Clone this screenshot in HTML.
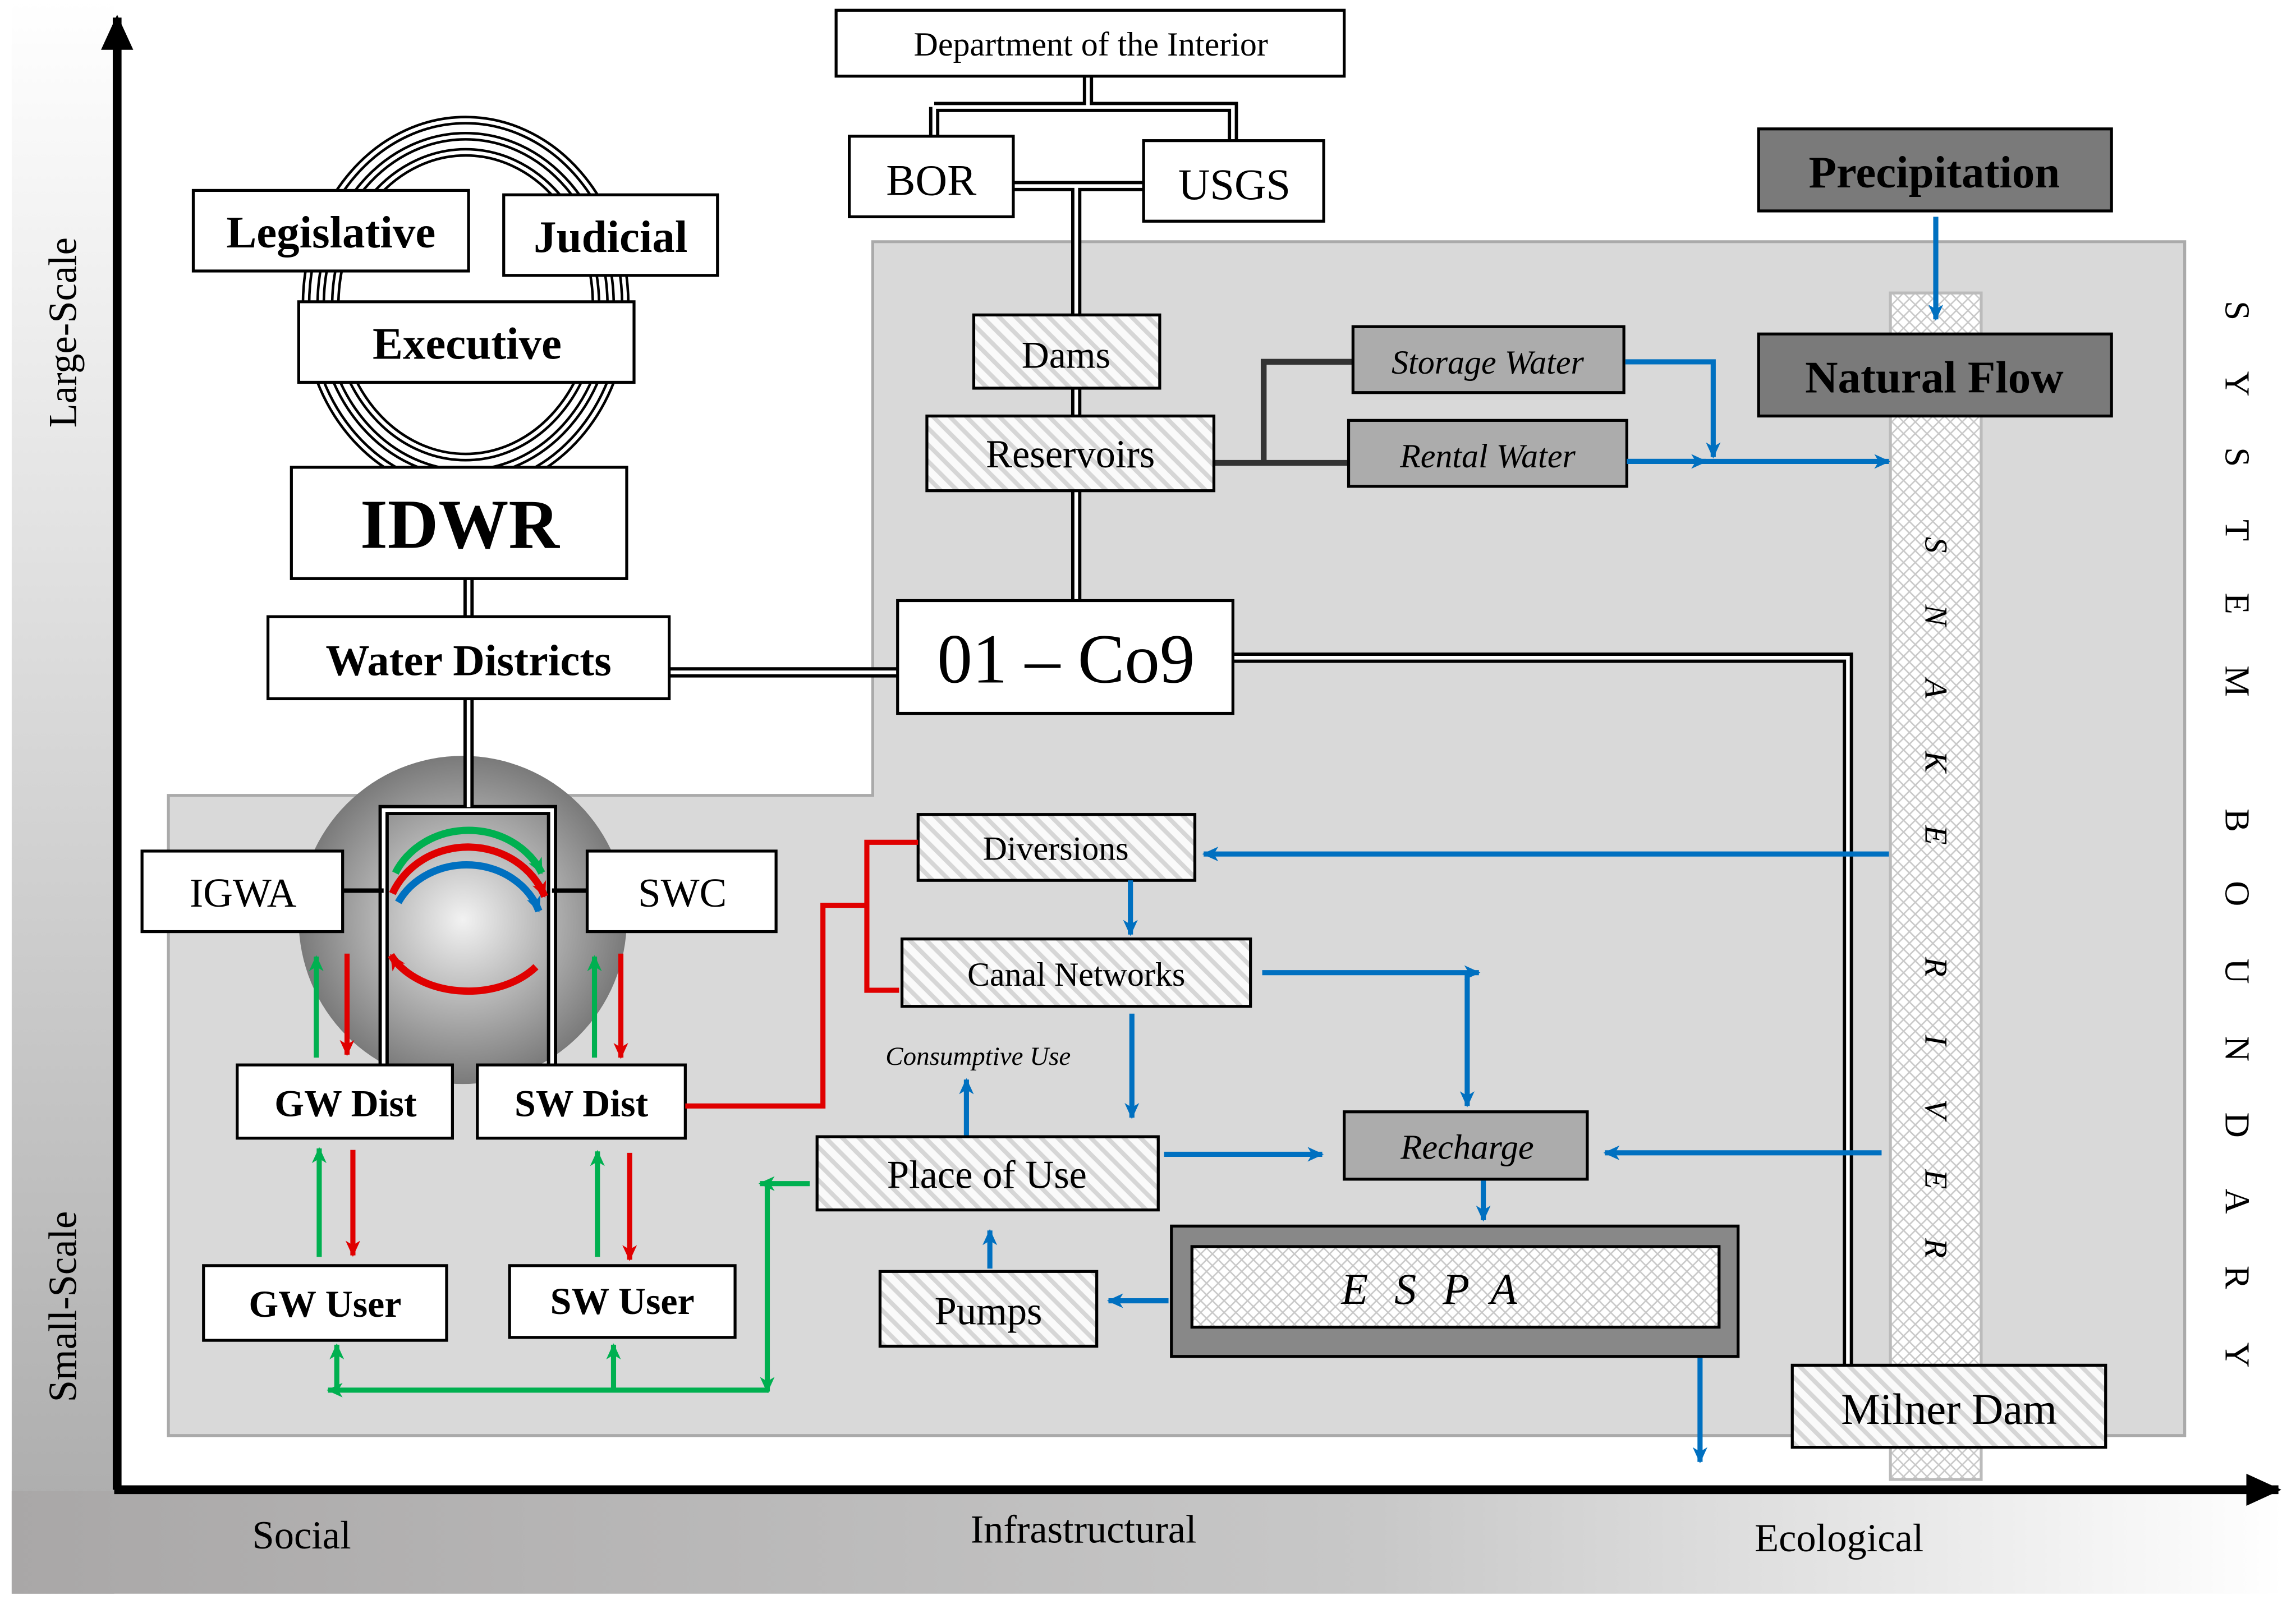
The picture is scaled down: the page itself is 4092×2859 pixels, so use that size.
<!DOCTYPE html>
<html><head><meta charset="utf-8"><style>html,body{margin:0;padding:0;background:#fff}svg{display:block}</style></head><body>
<svg xmlns="http://www.w3.org/2000/svg" width="4092" height="2859" viewBox="0 0 1568 1095" preserveAspectRatio="none" font-family="Liberation Serif, serif">
<defs>
<linearGradient id="lg" x1="0" y1="0" x2="0" y2="1"><stop offset="0" stop-color="#fff"/><stop offset="1" stop-color="#a9a9a9"/></linearGradient>
<linearGradient id="bg" x1="0" y1="0" x2="1" y2="0"><stop offset="0" stop-color="#a9a7a7"/><stop offset="0.6" stop-color="#c8c8c8"/><stop offset="1" stop-color="#fff"/></linearGradient>
<radialGradient id="sph" cx="0.5" cy="0.5" r="0.5"><stop offset="0" stop-color="#f2f2f2"/><stop offset="1" stop-color="#7a7a7a"/></radialGradient>
<pattern id="hatch" width="8" height="8" patternUnits="userSpaceOnUse" patternTransform="rotate(-45)"><rect width="8" height="8" fill="#fafafa"/><rect width="3" height="8" fill="#d6d6d6"/></pattern>
<pattern id="xh" width="8" height="8" patternUnits="userSpaceOnUse"><rect width="8" height="8" fill="#fff"/><path d="M0 4 L4 0 L8 4 L4 8Z" fill="none" stroke="#c8c8c8" stroke-width="1"/></pattern>
<marker id="ab" markerWidth="12" markerHeight="12" refX="10" refY="6" orient="auto" markerUnits="userSpaceOnUse"><path d="M0 1 L11 6 L0 11 L3 6Z" fill="#0070c0"/></marker>
<marker id="ar" markerWidth="12" markerHeight="12" refX="10" refY="6" orient="auto" markerUnits="userSpaceOnUse"><path d="M0 1 L11 6 L0 11 L3 6Z" fill="#e00000"/></marker>
<marker id="ag" markerWidth="12" markerHeight="12" refX="10" refY="6" orient="auto" markerUnits="userSpaceOnUse"><path d="M0 1 L11 6 L0 11 L3 6Z" fill="#00b050"/></marker>
<marker id="ak" markerWidth="26" markerHeight="26" refX="22" refY="13" orient="auto" markerUnits="userSpaceOnUse"><path d="M0 2 L24 13 L0 24Z" fill="#000"/></marker>
</defs>
<rect x="8" y="0" width="70" height="1088" fill="url(#lg)"/>
<rect x="8" y="1018" width="1552" height="70" fill="url(#bg)"/>
<rect x="78" y="0" width="1482" height="1018" fill="#fff"/>
<path d="M596 165 H1492 V980 H115 V543 H596 Z" fill="#d9d9d9" stroke="#aaa" stroke-width="2"/>
<line x1="80" y1="1017" x2="80" y2="12" stroke="#000" stroke-width="6" marker-end="url(#ak)"/>
<line x1="78" y1="1017" x2="1556" y2="1017" stroke="#000" stroke-width="6" marker-end="url(#ak)"/>
<circle cx="316" cy="628" r="112" fill="url(#sph)"/>
<g fill="none" stroke-linejoin="miter">
<g stroke="#000" stroke-width="7">
<path d="M743 52 V73 M638 73 H842 V96 M638 73 V93 M692 127 H781 M735 127 V410 M320 336 V319 M320 395 V421 M320 477 V551 M457 459 H613 M843 449 H1262 V932 M262 727 V553 H377 V727"/>
</g>
<g stroke="#fff" stroke-width="2.5">
<path d="M743 52 V73 M638 73 H842 V96 M638 73 V93 M692 127 H781 M735 127 V410 M320 336 V319 M320 395 V421 M320 477 V551 M457 459 H613 M843 449 H1262 V932 M262 727 V553 H377 V727"/>
</g>
<path d="M829 316 H922 M863 316 V247 H924" stroke="#333" stroke-width="4"/>
<path d="M234 608 H262 M377 608 H401" stroke="#000" stroke-width="3"/>
</g>
<g fill="none">
<ellipse cx="318" cy="208" rx="109" ry="126" stroke="#000" stroke-width="6"/><ellipse cx="318" cy="208" rx="109" ry="126" stroke="#fff" stroke-width="2.5"/>
<ellipse cx="318" cy="208" rx="99" ry="115" stroke="#000" stroke-width="6"/><ellipse cx="318" cy="208" rx="99" ry="115" stroke="#fff" stroke-width="2.5"/>
<ellipse cx="318" cy="208" rx="89" ry="104" stroke="#000" stroke-width="6"/><ellipse cx="318" cy="208" rx="89" ry="104" stroke="#fff" stroke-width="2.5"/>
</g>
<rect x="1291" y="200" width="62" height="810" fill="url(#xh)" stroke="#bbb" stroke-width="2"/>
<g stroke="#000" stroke-width="2">
<rect x="571" y="7" width="347" height="45" fill="#fff"/>
<rect x="580" y="93" width="112" height="55" fill="#fff"/>
<rect x="781" y="96" width="123" height="55" fill="#fff"/>
<rect x="132" y="130" width="188" height="55" fill="#fff"/>
<rect x="344" y="133" width="146" height="55" fill="#fff"/>
<rect x="204" y="206" width="229" height="55" fill="#fff"/>
<rect x="199" y="319" width="229" height="76" fill="#fff"/>
<rect x="183" y="421" width="274" height="56" fill="#fff"/>
<rect x="613" y="410" width="229" height="77" fill="#fff"/>
<rect x="665" y="215" width="127" height="50" fill="url(#hatch)"/>
<rect x="633" y="284" width="196" height="51" fill="url(#hatch)"/>
<rect x="924" y="223" width="185" height="45" fill="#acacac"/>
<rect x="921" y="287" width="190" height="45" fill="#acacac"/>
<rect x="1201" y="88" width="241" height="56" fill="#7a7a7a"/>
<rect x="1201" y="228" width="241" height="56" fill="#7a7a7a"/>
<rect x="1224" y="932" width="214" height="56" fill="url(#hatch)"/>
<rect x="627" y="556" width="189" height="45" fill="url(#hatch)"/>
<rect x="616" y="641" width="238" height="46" fill="url(#hatch)"/>
<rect x="558" y="776" width="233" height="50" fill="url(#hatch)"/>
<rect x="918" y="759" width="166" height="46" fill="#acacac"/>
<rect x="601" y="868" width="148" height="51" fill="url(#hatch)"/>
<rect x="800" y="837" width="387" height="89" fill="#888"/>
<rect x="814" y="851" width="360" height="55" fill="url(#xh)"/>
<rect x="97" y="581" width="137" height="55" fill="#fff"/>
<rect x="401" y="581" width="129" height="55" fill="#fff"/>
<rect x="162" y="727" width="147" height="50" fill="#fff"/>
<rect x="326" y="727" width="142" height="50" fill="#fff"/>
<rect x="139" y="864" width="166" height="51" fill="#fff"/>
<rect x="348" y="864" width="154" height="49" fill="#fff"/>
</g>
<g stroke="#0070c0" stroke-width="3.5" fill="none" marker-end="url(#ab)">
<path d="M1322 148 V218"/>
<path d="M1110 247 H1170 V312"/>
<path d="M1111 315 H1290"/>
<path d="M1111 315 H1165"/>
<path d="M1290 583 H822"/>
<path d="M772 601 V638"/>
<path d="M862 664 H1010"/>
<path d="M1002 664 V755"/>
<path d="M773 692 V763"/>
<path d="M795 788 H903"/>
<path d="M1285 787 H1096"/>
<path d="M1013 806 V833"/>
<path d="M798 888 H757"/>
<path d="M676 866 V840"/>
<path d="M660 775 V737"/>
<path d="M1161 927 V998"/>
</g>
<g fill="none" stroke-width="5">
<path d="M270 596 A55 50 0 0 1 370 596" stroke="#00b050" marker-end="url(#ag)"/>
<path d="M268 610 A56 52 0 0 1 372 612" stroke="#e00000" marker-end="url(#ar)"/>
<path d="M272 616 A52 46 0 0 1 368 622" stroke="#0070c0" marker-end="url(#ab)"/>
<path d="M366 660 A58 42 0 0 1 267 652" stroke="#e00000" marker-end="url(#ar)"/>
</g>
<g stroke="#e00000" stroke-width="3.5" fill="none">
<path d="M468 755 H562 V618 H592 V575 H627 M592 618 V676 H614"/>
<g marker-end="url(#ar)"><path d="M237 651 V720"/><path d="M424 651 V722"/><path d="M241 785 V857"/><path d="M430 787 V860"/></g>
</g>
<g stroke="#00b050" stroke-width="3.5" fill="none">
<g marker-end="url(#ag)"><path d="M216 722 V653"/><path d="M406 722 V653"/><path d="M218 858 V784"/><path d="M408 858 V786"/>
<path d="M553 808 H519"/><path d="M524 808 V950"/><path d="M525 949 H224"/><path d="M230 949 V918"/><path d="M419 949 V918"/></g>
</g>
<g text-anchor="middle" fill="#000">
<text x="745" y="38" font-size="23">Department of the Interior</text>
<text x="636" y="133" font-size="30">BOR</text>
<text x="843" y="136" font-size="30">USGS</text>
<text x="226" y="169" font-size="31" font-weight="bold">Legislative</text>
<text x="417" y="172" font-size="31" font-weight="bold">Judicial</text>
<text x="319" y="245" font-size="31" font-weight="bold">Executive</text>
<text x="314" y="374" font-size="48" font-weight="bold">IDWR</text>
<text x="320" y="461" font-size="30" font-weight="bold">Water Districts</text>
<text x="728" y="466" font-size="48">01 – Co9</text>
<text x="728" y="251" font-size="26">Dams</text>
<text x="731" y="319" font-size="27">Reservoirs</text>
<text x="1016" y="255" font-size="23" font-style="italic">Storage Water</text>
<text x="1016" y="319" font-size="23" font-style="italic">Rental Water</text>
<text x="1321" y="128" font-size="31" font-weight="bold">Precipitation</text>
<text x="1321" y="268" font-size="31" font-weight="bold">Natural Flow</text>
<text x="1331" y="972" font-size="30">Milner Dam</text>
<text x="721" y="587" font-size="23">Diversions</text>
<text x="735" y="673" font-size="23">Canal Networks</text>
<text x="668" y="727" font-size="18" font-style="italic">Consumptive Use</text>
<text x="674" y="811" font-size="27">Place of Use</text>
<text x="1002" y="791" font-size="24" font-style="italic">Recharge</text>
<text x="675" y="904" font-size="27">Pumps</text>
<text x="985" y="890" font-size="30" font-style="italic" letter-spacing="18">ESPA</text>
<text x="166" y="619" font-size="28">IGWA</text>
<text x="466" y="619" font-size="28">SWC</text>
<text x="236" y="762" font-size="26" font-weight="bold">GW Dist</text>
<text x="397" y="762" font-size="26" font-weight="bold">SW Dist</text>
<text x="222" y="899" font-size="26" font-weight="bold">GW User</text>
<text x="425" y="897" font-size="26" font-weight="bold">SW User</text>
<text x="206" y="1057" font-size="27">Social</text>
<text x="740" y="1053" font-size="27">Infrastructural</text>
<text x="1256" y="1059" font-size="27">Ecological</text>
<text transform="translate(52,227) rotate(-90)" font-size="27">Large-Scale</text>
<text transform="translate(52,892) rotate(-90)" font-size="27">Small-Scale</text>
</g>
<g font-size="24" fill="#000" text-anchor="middle">
<text transform="translate(1520,212) rotate(90)">S</text>
<text transform="translate(1520,262) rotate(90)">Y</text>
<text transform="translate(1520,312) rotate(90)">S</text>
<text transform="translate(1520,362) rotate(90)">T</text>
<text transform="translate(1520,412) rotate(90)">E</text>
<text transform="translate(1520,465) rotate(90)">M</text>
<text transform="translate(1520,560) rotate(90)">B</text>
<text transform="translate(1520,610) rotate(90)">O</text>
<text transform="translate(1520,663) rotate(90)">U</text>
<text transform="translate(1520,716) rotate(90)">N</text>
<text transform="translate(1520,768) rotate(90)">D</text>
<text transform="translate(1520,820) rotate(90)">A</text>
<text transform="translate(1520,872) rotate(90)">R</text>
<text transform="translate(1520,925) rotate(90)">Y</text>
</g>
<g font-size="22" font-style="italic" fill="#000" text-anchor="middle">
<text transform="translate(1315,372) rotate(90)">S</text>
<text transform="translate(1315,420) rotate(90)">N</text>
<text transform="translate(1315,470) rotate(90)">A</text>
<text transform="translate(1315,520) rotate(90)">K</text>
<text transform="translate(1315,570) rotate(90)">E</text>
<text transform="translate(1315,660) rotate(90)">R</text>
<text transform="translate(1315,710) rotate(90)">I</text>
<text transform="translate(1315,757) rotate(90)">V</text>
<text transform="translate(1315,805) rotate(90)">E</text>
<text transform="translate(1315,852) rotate(90)">R</text>
</g>
</svg>
</body></html>
